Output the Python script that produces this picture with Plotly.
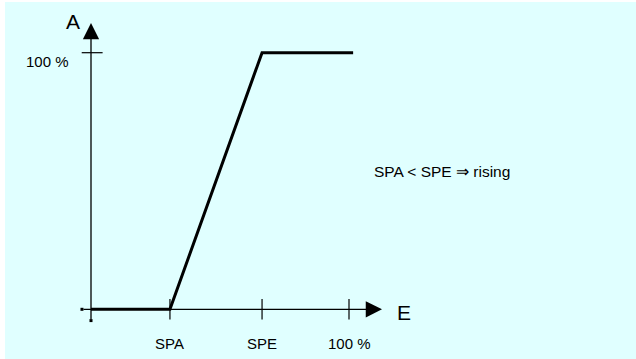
import plotly.graph_objects as go

# ---- data ----
curve_x = [0, 30.6, 66.3, 101.6]      # E (%): start, SPA, SPE, end
curve_y = [0, 0, 100, 100]            # A (%)

x_tick_pos = [30.6, 66.3, 100]
x_tick_labels = ["SPA", "SPE", "100 %"]
y_tick_pos = [100]
y_tick_labels = ["100 %"]

x_axis_start, x_axis_end = -3.5, 112.8
y_axis_start, y_axis_end = -4.4, 111.6
note_text = "SPA < SPE \u21d2 rising"

BG = "#E0FFFF"
FONT = "Liberation Sans, Arial, sans-serif"

fig = go.Figure()

# main characteristic curve
fig.add_trace(go.Scatter(
    x=curve_x, y=curve_y, mode="lines",
    line=dict(color="black", width=3), hoverinfo="skip", showlegend=False))

# small end dots of the axes
fig.add_trace(go.Scatter(
    x=[x_axis_start, 0], y=[0, y_axis_start], mode="markers",
    marker=dict(symbol="square", size=3, color="black"),
    hoverinfo="skip", showlegend=False))

# thin white frame strips at left / top of the picture
shapes = [
    dict(type="rect", xref="paper", yref="paper", x0=-0.02, x1=5 / 636,
         y0=-0.02, y1=1.02, fillcolor="white", line=dict(width=0), layer="below"),
    dict(type="rect", xref="paper", yref="paper", x0=-0.02, x1=1.02,
         y0=1 - 2 / 359, y1=1.02, fillcolor="white", line=dict(width=0), layer="below"),
]

# tick marks
for xv in x_tick_pos:
    shapes.append(dict(type="line", xref="x", yref="y", x0=xv, x1=xv,
                       y0=-4, y1=4, line=dict(color="black", width=1.2)))
for yv in y_tick_pos:
    shapes.append(dict(type="line", xref="x", yref="y", x0=-3.6, x1=4.5,
                       y0=yv, y1=yv, line=dict(color="black", width=1.2)))

annotations = []
# axes with arrowheads
annotations.append(dict(x=x_axis_end, y=0, ax=x_axis_start, ay=0,
                        xref="x", yref="y", axref="x", ayref="y",
                        text="", showarrow=True, arrowhead=2,
                        arrowsize=2.5, arrowwidth=1.3, arrowcolor="black"))
annotations.append(dict(x=0, y=y_axis_end, ax=0, ay=y_axis_start,
                        xref="x", yref="y", axref="x", ayref="y",
                        text="", showarrow=True, arrowhead=2,
                        arrowsize=2.5, arrowwidth=1.3, arrowcolor="black"))

# axis titles
annotations.append(dict(x=-7, y=112, text="A", showarrow=False,
                        font=dict(family=FONT, size=21, color="black")))
annotations.append(dict(x=121.5, y=-1.4, text="E", showarrow=False,
                        font=dict(family=FONT, size=21, color="black")))

# tick labels
for xv, lab in zip(x_tick_pos, x_tick_labels):
    annotations.append(dict(x=xv, y=-13.5, text=lab, showarrow=False,
                            font=dict(family=FONT, size=15, color="black")))
for yv, lab in zip(y_tick_pos, y_tick_labels):
    annotations.append(dict(x=-17, y=yv - 3.5, text=lab, showarrow=False,
                            font=dict(family=FONT, size=15, color="black")))

# note
annotations.append(dict(x=108.9, y=53.6, text=note_text, showarrow=False,
                        xanchor="left",
                        font=dict(family=FONT, size=15.5, color="black")))

fig.update_layout(
    width=636, height=359,
    margin=dict(l=0, r=0, t=0, b=0),
    paper_bgcolor=BG, plot_bgcolor=BG,
    xaxis=dict(range=[-35.27, 211.24], visible=False, fixedrange=True),
    yaxis=dict(range=[-19.37, 120.54], visible=False, fixedrange=True),
    shapes=shapes, annotations=annotations,
    showlegend=False,
)

fig.write_html(
    "out.html",
    config={"displayModeBar": False},
    post_script=("document.documentElement.style.margin='0px';"
                 "document.documentElement.style.background='" + BG + "';"
                 "document.body.style.margin='0px';"
                 "document.body.style.overflow='hidden';"
                 "document.body.style.background='" + BG + "';"),
)
